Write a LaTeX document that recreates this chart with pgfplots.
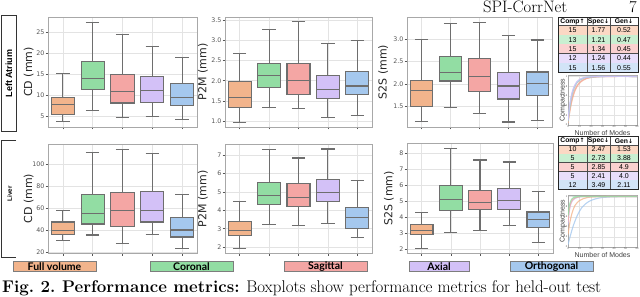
\documentclass[border=0pt]{standalone}
\usepackage{pgfplots}
\pgfplotsset{compat=1.18}
\usepgfplotslibrary{statistics}
\usepackage{fontspec}
\newfontfamily\dejavu{DejaVu Sans}
\newfontfamily\arialf{Liberation Sans}
\newfontfamily\latof{Lato}

\definecolor{cFull}{HTML}{F2B48C}
\definecolor{cCor}{HTML}{92DDA3}
\definecolor{cSag}{HTML}{F4A6A4}
\definecolor{cAx}{HTML}{D3C1F7}
\definecolor{cOrt}{HTML}{A5C8EE}
\definecolor{tFull}{HTML}{FBD8C4}
\definecolor{tCor}{HTML}{C9EFD1}
\definecolor{tSag}{HTML}{FAD1D0}
\definecolor{tAx}{HTML}{E8DEFB}
\definecolor{tOrt}{HTML}{D2E4F7}
\definecolor{boxedge}{HTML}{6E6E6E}
\definecolor{gridc}{HTML}{E3E3E3}
\definecolor{framec}{HTML}{A8A8A8}
\definecolor{tickc}{HTML}{555555}

\newcommand{\up}{{\dejavu\bfseries\fontsize{6}{7}\selectfont ↑}}
\newcommand{\dn}{{\dejavu\bfseries\fontsize{6}{7}\selectfont ↓}}

\pgfplotsset{
  panel/.style={
    scale only axis,
    xmin=-0.5, xmax=4.5,
    xtick={0,1,2,3,4}, xticklabels={},
    grid=major,
    major grid style={draw=gridc, line width=0.6pt},
    axis line style={draw=framec, line width=0.8pt},
    major tick style={draw=tickc, line width=0.6pt},
    tick align=outside, major tick length=2.5pt,
    tick pos=left,
    /pgf/number format/assume math mode=true,
    yticklabel style={font=\dejavu\fontsize{6.3}{7}\selectfont, text=tickc, inner sep=1pt},
    ylabel style={font=\dejavu\fontsize{11}{12}\selectfont, text=black!85, anchor=center},
    boxplot/draw direction=y,
  },
  bx/.style={draw=boxedge, line width=1.1pt, fill=#1, boxplot/box extend=0.78, boxplot/whisker extend=0.45},
  cmp/.style={
    scale only axis, width=69pt,
    xmin=0, xmax=60, ymin=0, ymax=1.03,
    xtick={0,10,...,60}, ytick={0,0.2,0.4,0.6,0.8,1},
    grid=major, major grid style={draw=gridc, line width=0.4pt},
    axis line style={draw=framec, line width=0.5pt},
    major tick style={draw=none},
    /pgf/number format/assume math mode=true,
    ticklabel style={font=\arialf\fontsize{2.6}{3}\selectfont, text=tickc, inner sep=0.6pt},
    xlabel={Number of Modes}, ylabel={Compactness},
    label style={font=\arialf\fontsize{7}{8}\selectfont, text=black!75},
    xlabel style={at={(axis description cs:0.5,-0.16)}, anchor=center},
    ylabel style={at={(axis description cs:-0.075,0.5)}, anchor=center},
  },
  cl/.style={color=#1, line width=1.1pt, opacity=0.8, smooth, no marks},
}

\begin{document}
\begin{tikzpicture}[x=1pt,y=1pt]
\useasboundingbox (0,0) rectangle (640,297);

% ---------- Top row: Left Atrium ----------
\begin{axis}[panel, at={(48pt,170pt)}, anchor=south west, width=149pt, height=110pt,
  ymin=2.5, ymax=28.6, ytick={5,10,15,20,25},
  ylabel={CD (mm)}, ylabel style={at={(axis description cs:-0.13,0.5)}}]
\addplot[bx=cFull, boxplot prepared={draw position=0, lower whisker=3.7, lower quartile=5.5, median=7.8, upper quartile=9.6, upper whisker=15.2}] coordinates {};
\addplot[bx=cCor, boxplot prepared={draw position=1, lower whisker=6.5, lower quartile=11.5, median=14.1, upper quartile=18.0, upper whisker=27.4}] coordinates {};
\addplot[bx=cSag, boxplot prepared={draw position=2, lower whisker=4.8, lower quartile=8.2, median=11.0, upper quartile=14.9, upper whisker=24.4}] coordinates {};
\addplot[bx=cAx, boxplot prepared={draw position=3, lower whisker=4.9, lower quartile=8.4, median=11.1, upper quartile=14.4, upper whisker=21.6}] coordinates {};
\addplot[bx=cOrt, boxplot prepared={draw position=4, lower whisker=4.2, lower quartile=7.7, median=9.5, upper quartile=12.9, upper whisker=19.0}] coordinates {};
\end{axis}

\begin{axis}[panel, at={(225pt,170pt)}, anchor=south west, width=147pt, height=110pt,
  ymin=0.86, ymax=3.57, ytick={1,1.5,2,2.5,3,3.5},
  yticklabel style={/pgf/number format/.cd, fixed, fixed zerofill, precision=1},
  ylabel={P2M (mm)}, ylabel style={at={(axis description cs:-0.15,0.5)}}]
\addplot[bx=cFull, boxplot prepared={draw position=0, lower whisker=0.98, lower quartile=1.35, median=1.59, upper quartile=1.98, upper whisker=2.67}] coordinates {};
\addplot[bx=cCor, boxplot prepared={draw position=1, lower whisker=1.35, lower quartile=1.84, median=2.12, upper quartile=2.42, upper whisker=3.26}] coordinates {};
\addplot[bx=cSag, boxplot prepared={draw position=2, lower whisker=1.32, lower quartile=1.67, median=2.01, upper quartile=2.43, upper whisker=3.45}] coordinates {};
\addplot[bx=cAx, boxplot prepared={draw position=3, lower whisker=1.09, lower quartile=1.56, median=1.79, upper quartile=2.12, upper whisker=2.92}] coordinates {};
\addplot[bx=cOrt, boxplot prepared={draw position=4, lower whisker=1.14, lower quartile=1.65, median=1.87, upper quartile=2.23, upper whisker=2.98}] coordinates {};
\end{axis}

\begin{axis}[panel, at={(407pt,170pt)}, anchor=south west, width=145pt, height=110pt,
  ymin=1.05, ymax=3.49, ytick={1.5,2,2.5,3},
  yticklabel style={/pgf/number format/.cd, fixed, fixed zerofill, precision=1},
  ylabel={S2S (mm)}, ylabel style={at={(axis description cs:-0.165,0.5)}}]
\addplot[bx=cFull, boxplot prepared={draw position=0, lower whisker=1.17, lower quartile=1.50, median=1.85, upper quartile=2.09, upper whisker=3.0}] coordinates {};
\addplot[bx=cCor, boxplot prepared={draw position=1, lower whisker=1.48, lower quartile=2.07, median=2.25, upper quartile=2.61, upper whisker=3.34}] coordinates {};
\addplot[bx=cSag, boxplot prepared={draw position=2, lower whisker=1.35, lower quartile=1.83, median=2.17, upper quartile=2.56, upper whisker=3.37}] coordinates {};
\addplot[bx=cAx, boxplot prepared={draw position=3, lower whisker=1.16, lower quartile=1.67, median=1.96, upper quartile=2.25, upper whisker=3.08}] coordinates {};
\addplot[bx=cOrt, boxplot prepared={draw position=4, lower whisker=1.20, lower quartile=1.74, median=2.02, upper quartile=2.27, upper whisker=2.98}] coordinates {};
\end{axis}

% ---------- Bottom row: Liver ----------
\begin{axis}[panel, at={(48pt,43.7pt)}, anchor=south west, width=149pt, height=109pt,
  ymin=18.8, ymax=118.5, ytick={20,40,60,80,100},
  ylabel={CD (mm)}, ylabel style={at={(axis description cs:-0.13,0.5)}}]
\addplot[bx=cFull, boxplot prepared={draw position=0, lower whisker=30.3, lower quartile=35.8, median=39.7, upper quartile=47.4, upper whisker=58.3}] coordinates {};
\addplot[bx=cCor, boxplot prepared={draw position=1, lower whisker=35.5, lower quartile=45.6, median=55.0, upper quartile=72.3, upper whisker=111.3}] coordinates {};
\addplot[bx=cSag, boxplot prepared={draw position=2, lower whisker=27.9, lower quartile=43.4, median=58.0, upper quartile=74.8, upper whisker=114.0}] coordinates {};
\addplot[bx=cAx, boxplot prepared={draw position=3, lower whisker=35.8, lower quartile=47.4, median=58.0, upper quartile=75.4, upper whisker=109.8}] coordinates {};
\addplot[bx=cOrt, boxplot prepared={draw position=4, lower whisker=23.3, lower quartile=33.7, median=40.1, upper quartile=51.3, upper whisker=72.3}] coordinates {};
\end{axis}

\begin{axis}[panel, at={(225pt,43.5pt)}, anchor=south west, width=147pt, height=109.5pt,
  ymin=1.66, ymax=7.6, ytick={2,3,4,5,6,7},
  ylabel={P2M (mm)}, ylabel style={at={(axis description cs:-0.15,0.5)}}]
\addplot[bx=cFull, boxplot prepared={draw position=0, lower whisker=1.93, lower quartile=2.65, median=2.92, upper quartile=3.39, upper whisker=4.5}] coordinates {};
\addplot[bx=cCor, boxplot prepared={draw position=1, lower whisker=3.21, lower quartile=4.30, median=4.83, upper quartile=5.53, upper whisker=7.29}] coordinates {};
\addplot[bx=cSag, boxplot prepared={draw position=2, lower whisker=3.18, lower quartile=4.23, median=4.68, upper quartile=5.44, upper whisker=6.84}] coordinates {};
\addplot[bx=cAx, boxplot prepared={draw position=3, lower whisker=3.27, lower quartile=4.50, median=4.97, upper quartile=5.68, upper whisker=7.33}] coordinates {};
\addplot[bx=cOrt, boxplot prepared={draw position=4, lower whisker=2.51, lower quartile=3.03, median=3.61, upper quartile=4.14, upper whisker=5.6}] coordinates {};
\end{axis}

\begin{axis}[panel, at={(407pt,43.7pt)}, anchor=south west, width=146pt, height=110pt,
  ymin=1.77, ymax=8.64, ytick={2,3,4,5,6,7,8},
  ylabel={S2S (mm)}, ylabel style={at={(axis description cs:-0.124,0.5)}}]
\addplot[bx=cFull, boxplot prepared={draw position=0, lower whisker=2.08, lower quartile=2.94, median=3.19, upper quartile=3.57, upper whisker=4.33}] coordinates {};
\addplot[bx=cCor, boxplot prepared={draw position=1, lower whisker=3.09, lower quartile=4.43, median=5.14, upper quartile=5.98, upper whisker=8.33}] coordinates {};
\addplot[bx=cSag, boxplot prepared={draw position=2, lower whisker=3.22, lower quartile=4.49, median=4.94, upper quartile=5.71, upper whisker=7.6}] coordinates {};
\addplot[bx=cAx, boxplot prepared={draw position=3, lower whisker=3.51, lower quartile=4.49, median=5.08, upper quartile=5.82, upper whisker=7.47}] coordinates {};
\addplot[bx=cOrt, boxplot prepared={draw position=4, lower whisker=2.42, lower quartile=3.40, median=3.89, upper quartile=4.35, upper whisker=5.63}] coordinates {};
\end{axis}

% ---------- Compactness plots ----------
\begin{axis}[cmp, at={(568pt,172pt)}, anchor=south west, height=50pt]
\addplot[cl=cFull] coordinates {(0,0.04)(1,0.19)(2,0.33)(3,0.45)(4,0.55)(5,0.63)(6,0.70)(8,0.80)(10,0.86)(13,0.92)(16,0.955)(20,0.978)(25,0.99)(30,0.997)(40,1)(60,1)};
\addplot[cl=cSag] coordinates {(0,0.05)(1,0.22)(2,0.37)(3,0.49)(4,0.59)(5,0.67)(6,0.73)(8,0.82)(10,0.88)(13,0.93)(16,0.96)(20,0.98)(25,0.992)(30,0.998)(40,1)(60,1)};
\addplot[cl=cCor] coordinates {(0,0.07)(1,0.27)(2,0.44)(3,0.57)(4,0.67)(5,0.74)(6,0.80)(8,0.88)(10,0.92)(13,0.96)(16,0.98)(20,0.99)(25,0.996)(30,1)(60,1)};
\addplot[cl=cOrt] coordinates {(0,0.08)(1,0.30)(2,0.47)(3,0.59)(4,0.69)(5,0.76)(6,0.81)(8,0.89)(10,0.93)(13,0.965)(16,0.982)(20,0.992)(25,0.997)(30,1)(60,1)};
\addplot[cl=cAx] coordinates {(0,0.10)(1,0.33)(2,0.50)(3,0.62)(4,0.71)(5,0.78)(6,0.83)(8,0.90)(10,0.94)(13,0.97)(16,0.985)(20,0.993)(25,0.998)(30,1)(60,1)};
\end{axis}

\begin{axis}[cmp, at={(568pt,50pt)}, anchor=south west, height=52pt]
\addplot[cl=cOrt] coordinates {(0,0.05)(2,0.22)(4,0.38)(6,0.51)(8,0.62)(10,0.71)(12,0.78)(15,0.85)(18,0.90)(22,0.94)(26,0.965)(30,0.98)(40,0.995)(60,1)};
\addplot[cl=cFull] coordinates {(0,0.25)(1,0.40)(2,0.53)(3,0.63)(4,0.71)(6,0.82)(8,0.88)(10,0.92)(13,0.955)(16,0.975)(20,0.99)(30,1)(60,1)};
\addplot[cl=cAx] coordinates {(0,0.45)(1,0.68)(2,0.81)(3,0.88)(4,0.92)(6,0.96)(8,0.98)(10,0.99)(15,0.998)(60,1)};
\addplot[cl=cSag] coordinates {(0,0.50)(1,0.72)(2,0.84)(3,0.90)(4,0.94)(6,0.97)(8,0.985)(10,0.993)(15,1)(60,1)};
\addplot[cl=cCor] coordinates {(0,0.62)(1,0.80)(2,0.89)(3,0.94)(4,0.965)(6,0.985)(8,0.995)(10,1)(60,1)};
\end{axis}

% ---------- Tables ----------
\tikzset{tc/.style={font=\arialf\fontsize{7}{8}\selectfont, inner sep=0, anchor=center},
         th/.style={font=\arialf\bfseries\fontsize{6.8}{8}\selectfont, inner sep=0, anchor=center}}
% top table
\fill[white] (558,271.3) rectangle (638,279.7);
\node[th] at (572.5,275.5) {Comp\up};
\node[th] at (598.5,275.5) {Spec\dn};
\node[th] at (624,275.5) {Gen\dn};
\foreach \i/\cc/\a/\b/\d in {0/tFull/15/1.77/0.52,1/tCor/13/1.21/0.47,2/tSag/15/1.34/0.45,3/tAx/12/1.24/0.44,4/tOrt/15/1.56/0.55}{
  \pgfmathsetmacro\yt{271.3-\i*9.32}
  \pgfmathsetmacro\yb{\yt-9.32}
  \pgfmathsetmacro\ym{\yt-4.66}
  \fill[\cc] (558,\yb) rectangle (638,\yt);
  \draw[black!70, line width=0.5pt] (558,\yb) -- (638,\yb);
  \node[tc] at (572.5,\ym) {\a};
  \node[tc] at (598.5,\ym) {\b};
  \node[tc] at (624,\ym) {\d};
}
\draw[black!70, line width=0.5pt] (558,271.3) -- (638,271.3) (587,224.7) -- (587,279.7) (610,224.7) -- (610,279.7);
\draw[black!85, line width=0.7pt] (558,224.7) rectangle (638,279.7);

% bottom table
\fill[white] (558,152) rectangle (638,160.3);
\node[th] at (572.5,156.1) {Comp\up};
\node[th] at (598.5,156.1) {Spec\dn};
\node[th] at (624,156.1) {Gen\dn};
\foreach \i/\cc/\a/\b/\d in {0/tFull/10/2.47/1.53,1/tCor/5/2.73/3.88,2/tSag/5/2.85/4.9,3/tAx/5/2.41/4.0,4/tOrt/12/3.49/2.11}{
  \pgfmathsetmacro\yt{152-\i*8.86}
  \pgfmathsetmacro\yb{\yt-8.86}
  \pgfmathsetmacro\ym{\yt-4.43}
  \fill[\cc] (558,\yb) rectangle (638,\yt);
  \draw[black!70, line width=0.5pt] (558,\yb) -- (638,\yb);
  \node[tc] at (572.5,\ym) {\a};
  \node[tc] at (598.5,\ym) {\b};
  \node[tc] at (624,\ym) {\d};
}
\draw[black!70, line width=0.5pt] (558,152) -- (638,152) (587,107.7) -- (587,160.3) (610,107.7) -- (610,160.3);
\draw[black!85, line width=0.7pt] (558,107.7) rectangle (638,160.3);

% ---------- Row labels ----------
\draw[black!80, line width=0.8pt] (1,165.3) rectangle (16.7,282);
\node[rotate=90, font=\arialf\bfseries\fontsize{9}{10}\selectfont, inner sep=0] at (9,223.5) {Left Atrium};
\draw[black!80, line width=0.8pt] (16,157) -- (1.7,157) -- (1.7,39.3) -- (16,39.3);
\node[rotate=90, font=\arialf\bfseries\fontsize{6.3}{7}\selectfont, inner sep=0] at (9.5,103) {Liver};

% ---------- Legend boxes ----------
\tikzset{lg/.style={draw=boxedge!90, line width=0.7pt}}
\tikzset{lt/.style={font=\latof\bfseries\fontsize{10.5}{12}\selectfont, inner sep=0, anchor=center}}
\draw[lg, fill=cFull] (13,25.3) rectangle (96,35.3);   \node[lt] at (54.5,30.3) {Full volume};
\draw[lg, fill=cCor] (150,25.3) rectangle (233,35.3);  \node[lt] at (191.5,30.3) {Coronal};
\draw[lg, fill=cSag] (284,25.3) rectangle (367,35.3);  \node[lt] at (325.5,30.3) {Sagittal};
\draw[lg, fill=cAx] (409,25.3) rectangle (469,35.3);   \node[lt] at (439,30.3) {Axial};
\draw[lg, fill=cOrt] (510,25.3) rectangle (593,35.3);  \node[lt] at (551.5,30.3) {Orthogonal};

% ---------- Running head and caption ----------
\node[anchor=base west, inner sep=0, font=\fontsize{16.6}{18}\selectfont] at (483,284) {SPI-CorrNet};
\node[anchor=base east, inner sep=0, font=\fontsize{16.6}{18}\selectfont] at (637,284) {7};
\node[anchor=base west, inner sep=0, font=\fontsize{16.9}{18}\selectfont] at (2,4.2)
  {\textbf{Fig.~2.} \textbf{Performance metrics:} Boxplots show performance metrics for held-out test};
\end{tikzpicture}
\end{document}
